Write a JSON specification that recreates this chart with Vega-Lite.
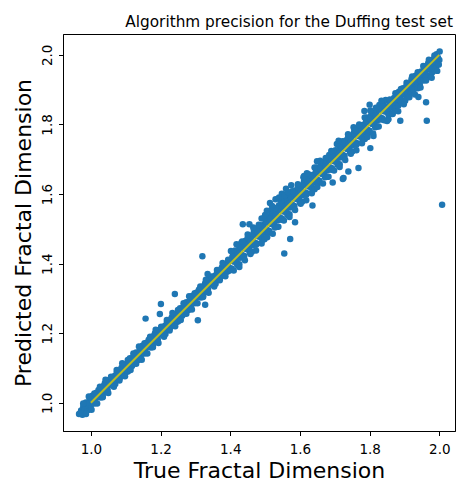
{
"$schema": "https://vega.github.io/schema/vega-lite/v6.json",
"width": 392, "height": 397,
"autosize": "none",
"padding": {"left": 63, "top": 34, "right": 1, "bottom": 50},
"background": "white",
"config": {
  "view": {"stroke": "black", "strokeWidth": 1},
  "font": "DejaVu Sans",
  "axis": {"grid": false, "domainColor": "black", "tickColor": "black", "labelColor": "black", "titleColor": "black",
           "labelFont": "DejaVu Sans", "titleFont": "DejaVu Sans", "labelFontSize": 13.5, "titleFontSize": 22, "titleFontWeight": "normal", "tickSize": 4.5, "domainWidth": 1, "tickWidth": 1}
},
"title": {"text": "Algorithm precision for the Duffing test set", "fontSize": 15.3, "font": "DejaVu Sans", "fontWeight": "normal", "color": "black", "anchor": "end", "frame": "group", "dx": -2, "dy": 17, "baseline": "alphabetic", "offset": 9},
"datasets": {
"pts": [
{"t":0.972,"p":0.978},{"t":0.976,"p":0.966},{"t":0.980,"p":0.993},{"t":0.984,"p":0.981},{"t":0.988,"p":0.989},{"t":0.992,"p":0.979},{"t":0.996,"p":1.005},{"t":1.000,"p":0.994},{"t":1.004,"p":1.020},{"t":1.008,"p":1.014},
{"t":1.012,"p":1.002},{"t":1.016,"p":1.029},{"t":1.020,"p":1.017},{"t":1.024,"p":1.025},{"t":1.028,"p":1.015},{"t":1.032,"p":1.041},{"t":1.036,"p":1.030},{"t":1.040,"p":1.056},{"t":1.044,"p":1.050},{"t":1.048,"p":1.038},
{"t":1.052,"p":1.065},{"t":1.056,"p":1.053},{"t":1.060,"p":1.061},{"t":1.064,"p":1.051},{"t":1.068,"p":1.077},{"t":1.072,"p":1.066},{"t":1.076,"p":1.092},{"t":1.080,"p":1.086},{"t":1.084,"p":1.074},{"t":1.088,"p":1.101},
{"t":1.092,"p":1.089},{"t":1.096,"p":1.097},{"t":1.100,"p":1.087},{"t":1.104,"p":1.113},{"t":1.108,"p":1.102},{"t":1.112,"p":1.128},{"t":1.116,"p":1.122},{"t":1.120,"p":1.110},{"t":1.124,"p":1.137},{"t":1.128,"p":1.125},
{"t":1.132,"p":1.133},{"t":1.136,"p":1.123},{"t":1.140,"p":1.149},{"t":1.144,"p":1.138},{"t":1.148,"p":1.164},{"t":1.152,"p":1.158},{"t":1.156,"p":1.146},{"t":1.160,"p":1.173},{"t":1.164,"p":1.161},{"t":1.168,"p":1.169},
{"t":1.172,"p":1.159},{"t":1.176,"p":1.185},{"t":1.180,"p":1.174},{"t":1.184,"p":1.200},{"t":1.188,"p":1.194},{"t":1.192,"p":1.182},{"t":1.196,"p":1.209},{"t":1.200,"p":1.197},{"t":1.204,"p":1.205},{"t":1.208,"p":1.195},
{"t":1.212,"p":1.221},{"t":1.216,"p":1.210},{"t":1.220,"p":1.236},{"t":1.224,"p":1.230},{"t":1.228,"p":1.218},{"t":1.232,"p":1.245},{"t":1.236,"p":1.233},{"t":1.240,"p":1.241},{"t":1.244,"p":1.231},{"t":1.248,"p":1.257},
{"t":1.252,"p":1.246},{"t":1.256,"p":1.272},{"t":1.260,"p":1.266},{"t":1.264,"p":1.254},{"t":1.268,"p":1.281},{"t":1.272,"p":1.269},{"t":1.276,"p":1.277},{"t":1.280,"p":1.267},{"t":1.284,"p":1.293},{"t":1.288,"p":1.282},
{"t":1.292,"p":1.308},{"t":1.296,"p":1.302},{"t":1.300,"p":1.290},{"t":1.304,"p":1.317},{"t":1.308,"p":1.305},{"t":1.312,"p":1.313},{"t":1.316,"p":1.303},{"t":1.320,"p":1.329},{"t":1.324,"p":1.318},{"t":1.328,"p":1.344},
{"t":1.332,"p":1.338},{"t":1.336,"p":1.326},{"t":1.340,"p":1.353},{"t":1.344,"p":1.341},{"t":1.348,"p":1.349},{"t":1.352,"p":1.339},{"t":1.356,"p":1.365},{"t":1.360,"p":1.354},{"t":1.364,"p":1.380},{"t":1.368,"p":1.374},
{"t":1.372,"p":1.362},{"t":1.376,"p":1.389},{"t":1.380,"p":1.377},{"t":1.384,"p":1.385},{"t":1.388,"p":1.375},{"t":1.392,"p":1.401},{"t":1.396,"p":1.390},
{"t":1.400,"p":1.410},{"t":1.404,"p":1.386},{"t":1.408,"p":1.430},{"t":1.412,"p":1.406},{"t":1.416,"p":1.419},{"t":1.420,"p":1.396},{"t":1.424,"p":1.440},{"t":1.428,"p":1.417},{"t":1.432,"p":1.460},{"t":1.436,"p":1.446},
{"t":1.440,"p":1.422},{"t":1.444,"p":1.466},{"t":1.448,"p":1.442},{"t":1.452,"p":1.455},{"t":1.456,"p":1.432},{"t":1.460,"p":1.476},{"t":1.464,"p":1.453},{"t":1.468,"p":1.496},{"t":1.472,"p":1.482},{"t":1.476,"p":1.458},
{"t":1.480,"p":1.502},{"t":1.484,"p":1.478},{"t":1.488,"p":1.491},{"t":1.492,"p":1.468},{"t":1.496,"p":1.512},{"t":1.500,"p":1.489},{"t":1.504,"p":1.532},{"t":1.508,"p":1.518},{"t":1.512,"p":1.494},{"t":1.516,"p":1.538},
{"t":1.520,"p":1.514},{"t":1.524,"p":1.527},{"t":1.528,"p":1.504},{"t":1.532,"p":1.548},{"t":1.536,"p":1.525},{"t":1.540,"p":1.568},{"t":1.544,"p":1.554},{"t":1.548,"p":1.530},{"t":1.552,"p":1.574},{"t":1.556,"p":1.550},
{"t":1.560,"p":1.563},{"t":1.564,"p":1.540},{"t":1.568,"p":1.584},{"t":1.572,"p":1.561},{"t":1.576,"p":1.604},{"t":1.580,"p":1.590},{"t":1.584,"p":1.566},{"t":1.588,"p":1.610},{"t":1.592,"p":1.586},{"t":1.596,"p":1.599},
{"t":1.600,"p":1.576},{"t":1.604,"p":1.620},{"t":1.608,"p":1.597},{"t":1.612,"p":1.640},{"t":1.616,"p":1.626},{"t":1.620,"p":1.602},{"t":1.624,"p":1.646},{"t":1.628,"p":1.622},{"t":1.632,"p":1.635},{"t":1.636,"p":1.612},
{"t":1.640,"p":1.656},{"t":1.644,"p":1.633},{"t":1.648,"p":1.676},{"t":1.652,"p":1.662},{"t":1.656,"p":1.638},{"t":1.660,"p":1.682},{"t":1.664,"p":1.658},{"t":1.668,"p":1.671},{"t":1.672,"p":1.648},{"t":1.676,"p":1.692},
{"t":1.680,"p":1.669},{"t":1.684,"p":1.712},{"t":1.688,"p":1.698},{"t":1.692,"p":1.674},{"t":1.696,"p":1.718},{"t":1.700,"p":1.694},{"t":1.704,"p":1.707},{"t":1.708,"p":1.684},{"t":1.712,"p":1.728},{"t":1.716,"p":1.705},
{"t":1.720,"p":1.748},{"t":1.724,"p":1.734},{"t":1.728,"p":1.710},{"t":1.732,"p":1.754},{"t":1.736,"p":1.730},{"t":1.740,"p":1.743},{"t":1.744,"p":1.720},{"t":1.748,"p":1.764},{"t":1.752,"p":1.741},{"t":1.756,"p":1.784},
{"t":1.760,"p":1.770},{"t":1.764,"p":1.746},{"t":1.768,"p":1.790},{"t":1.772,"p":1.766},{"t":1.776,"p":1.779},{"t":1.780,"p":1.756},{"t":1.784,"p":1.800},{"t":1.788,"p":1.777},{"t":1.792,"p":1.820},{"t":1.796,"p":1.806},
{"t":1.800,"p":1.782},{"t":1.804,"p":1.826},{"t":1.808,"p":1.802},{"t":1.812,"p":1.815},{"t":1.816,"p":1.792},{"t":1.820,"p":1.836},{"t":1.824,"p":1.813},{"t":1.828,"p":1.856},{"t":1.832,"p":1.842},{"t":1.836,"p":1.818},
{"t":1.840,"p":1.862},{"t":1.844,"p":1.838},{"t":1.848,"p":1.851},
{"t":1.852,"p":1.848},{"t":1.856,"p":1.834},{"t":1.860,"p":1.868},{"t":1.864,"p":1.850},{"t":1.868,"p":1.866},{"t":1.872,"p":1.842},{"t":1.876,"p":1.880},{"t":1.880,"p":1.862},{"t":1.884,"p":1.894},{"t":1.888,"p":1.884},
{"t":1.892,"p":1.870},{"t":1.896,"p":1.904},{"t":1.900,"p":1.886},{"t":1.904,"p":1.902},{"t":1.908,"p":1.878},{"t":1.912,"p":1.916},{"t":1.916,"p":1.898},{"t":1.920,"p":1.930},{"t":1.924,"p":1.920},{"t":1.928,"p":1.906},
{"t":1.932,"p":1.940},{"t":1.936,"p":1.922},{"t":1.940,"p":1.938},{"t":1.944,"p":1.914},{"t":1.948,"p":1.952},{"t":1.952,"p":1.934},{"t":1.956,"p":1.966},{"t":1.960,"p":1.956},{"t":1.964,"p":1.942},{"t":1.968,"p":1.976},
{"t":1.972,"p":1.958},{"t":1.976,"p":1.974},{"t":1.980,"p":1.950},{"t":1.984,"p":1.988},{"t":1.988,"p":1.970},{"t":1.992,"p":2.002},{"t":1.996,"p":1.992},{"t":2.000,"p":1.985},{"t":2.001,"p":2.010},{"t":1.998,"p":1.972},
{"t":0.974,"p":0.968},{"t":0.978,"p":0.988},{"t":0.982,"p":0.980},{"t":0.986,"p":1.001},{"t":0.990,"p":0.982},{"t":0.994,"p":0.998},{"t":0.998,"p":0.982},{"t":1.002,"p":1.014},{"t":1.006,"p":1.001},{"t":1.010,"p":0.998},
{"t":1.014,"p":1.024},{"t":1.018,"p":1.016},{"t":1.022,"p":1.037},{"t":1.026,"p":1.018},{"t":1.030,"p":1.034},{"t":1.034,"p":1.018},{"t":1.038,"p":1.050},{"t":1.042,"p":1.037},{"t":1.046,"p":1.034},{"t":1.050,"p":1.060},
{"t":1.054,"p":1.052},{"t":1.058,"p":1.073},{"t":1.062,"p":1.054},{"t":1.066,"p":1.070},{"t":1.070,"p":1.054},{"t":1.074,"p":1.086},{"t":1.078,"p":1.073},{"t":1.082,"p":1.070},{"t":1.086,"p":1.096},{"t":1.090,"p":1.088},
{"t":1.094,"p":1.109},{"t":1.098,"p":1.090},{"t":1.102,"p":1.106},{"t":1.106,"p":1.090},{"t":1.110,"p":1.122},{"t":1.114,"p":1.109},{"t":1.118,"p":1.106},{"t":1.122,"p":1.132},{"t":1.126,"p":1.124},{"t":1.130,"p":1.145},
{"t":1.134,"p":1.126},{"t":1.138,"p":1.142},{"t":1.142,"p":1.126},{"t":1.146,"p":1.158},{"t":1.150,"p":1.145},{"t":1.154,"p":1.142},{"t":1.158,"p":1.168},{"t":1.162,"p":1.160},{"t":1.166,"p":1.181},{"t":1.170,"p":1.162},
{"t":1.174,"p":1.178},{"t":1.178,"p":1.162},{"t":1.182,"p":1.194},{"t":1.186,"p":1.181},{"t":1.190,"p":1.178},{"t":1.194,"p":1.204},{"t":1.198,"p":1.196},{"t":1.202,"p":1.217},{"t":1.206,"p":1.198},{"t":1.210,"p":1.214},
{"t":1.214,"p":1.198},{"t":1.218,"p":1.230},{"t":1.222,"p":1.217},{"t":1.226,"p":1.214},{"t":1.230,"p":1.240},{"t":1.234,"p":1.232},{"t":1.238,"p":1.253},{"t":1.242,"p":1.234},{"t":1.246,"p":1.250},{"t":1.250,"p":1.234},
{"t":1.254,"p":1.266},{"t":1.258,"p":1.253},{"t":1.262,"p":1.250},{"t":1.266,"p":1.276},{"t":1.270,"p":1.268},{"t":1.274,"p":1.289},{"t":1.278,"p":1.270},{"t":1.282,"p":1.286},{"t":1.286,"p":1.270},{"t":1.290,"p":1.302},
{"t":1.294,"p":1.289},{"t":1.298,"p":1.286},{"t":1.302,"p":1.312},{"t":1.306,"p":1.304},{"t":1.310,"p":1.325},{"t":1.314,"p":1.306},{"t":1.318,"p":1.322},{"t":1.322,"p":1.306},{"t":1.326,"p":1.338},{"t":1.330,"p":1.325},
{"t":1.334,"p":1.322},{"t":1.338,"p":1.348},{"t":1.342,"p":1.340},{"t":1.346,"p":1.361},{"t":1.350,"p":1.342},{"t":1.354,"p":1.358},{"t":1.358,"p":1.342},{"t":1.362,"p":1.374},{"t":1.366,"p":1.361},{"t":1.370,"p":1.358},
{"t":1.374,"p":1.384},{"t":1.378,"p":1.376},{"t":1.382,"p":1.397},{"t":1.386,"p":1.378},{"t":1.390,"p":1.394},{"t":1.394,"p":1.378},{"t":1.398,"p":1.410},
{"t":1.402,"p":1.382},{"t":1.406,"p":1.420},{"t":1.410,"p":1.406},{"t":1.414,"p":1.438},{"t":1.418,"p":1.404},{"t":1.422,"p":1.428},{"t":1.426,"p":1.398},{"t":1.430,"p":1.450},{"t":1.434,"p":1.425},{"t":1.438,"p":1.418},
{"t":1.442,"p":1.456},{"t":1.446,"p":1.442},{"t":1.450,"p":1.474},{"t":1.454,"p":1.440},{"t":1.458,"p":1.464},{"t":1.462,"p":1.434},{"t":1.466,"p":1.486},{"t":1.470,"p":1.461},{"t":1.474,"p":1.454},{"t":1.478,"p":1.492},
{"t":1.482,"p":1.478},{"t":1.486,"p":1.510},{"t":1.490,"p":1.476},{"t":1.494,"p":1.500},{"t":1.498,"p":1.470},{"t":1.502,"p":1.522},{"t":1.506,"p":1.497},{"t":1.510,"p":1.490},{"t":1.514,"p":1.528},{"t":1.518,"p":1.514},
{"t":1.522,"p":1.546},{"t":1.526,"p":1.512},{"t":1.530,"p":1.536},{"t":1.534,"p":1.506},{"t":1.538,"p":1.558},{"t":1.542,"p":1.533},{"t":1.546,"p":1.526},{"t":1.550,"p":1.564},{"t":1.554,"p":1.550},{"t":1.558,"p":1.582},
{"t":1.562,"p":1.548},{"t":1.566,"p":1.572},{"t":1.570,"p":1.542},{"t":1.574,"p":1.594},{"t":1.578,"p":1.569},{"t":1.582,"p":1.562},{"t":1.586,"p":1.600},{"t":1.590,"p":1.586},{"t":1.594,"p":1.618},{"t":1.598,"p":1.584},
{"t":1.602,"p":1.608},{"t":1.606,"p":1.578},{"t":1.610,"p":1.630},{"t":1.614,"p":1.605},{"t":1.618,"p":1.598},{"t":1.622,"p":1.636},{"t":1.626,"p":1.622},{"t":1.630,"p":1.654},{"t":1.634,"p":1.620},{"t":1.638,"p":1.644},
{"t":1.642,"p":1.614},{"t":1.646,"p":1.666},{"t":1.650,"p":1.641},{"t":1.654,"p":1.634},{"t":1.658,"p":1.672},{"t":1.662,"p":1.658},{"t":1.666,"p":1.690},{"t":1.670,"p":1.656},{"t":1.674,"p":1.680},{"t":1.678,"p":1.650},
{"t":1.682,"p":1.702},{"t":1.686,"p":1.677},{"t":1.690,"p":1.670},{"t":1.694,"p":1.708},{"t":1.698,"p":1.694},{"t":1.702,"p":1.726},{"t":1.706,"p":1.692},{"t":1.710,"p":1.716},{"t":1.714,"p":1.686},{"t":1.718,"p":1.738},
{"t":1.722,"p":1.713},{"t":1.726,"p":1.706},{"t":1.730,"p":1.744},{"t":1.734,"p":1.730},{"t":1.738,"p":1.762},{"t":1.742,"p":1.728},{"t":1.746,"p":1.752},{"t":1.750,"p":1.722},{"t":1.754,"p":1.774},{"t":1.758,"p":1.749},
{"t":1.762,"p":1.742},{"t":1.766,"p":1.780},{"t":1.770,"p":1.766},{"t":1.774,"p":1.798},{"t":1.778,"p":1.764},{"t":1.782,"p":1.788},{"t":1.786,"p":1.758},{"t":1.790,"p":1.810},{"t":1.794,"p":1.785},{"t":1.798,"p":1.778},
{"t":1.802,"p":1.816},{"t":1.806,"p":1.802},{"t":1.810,"p":1.834},{"t":1.814,"p":1.800},{"t":1.818,"p":1.824},{"t":1.822,"p":1.794},{"t":1.826,"p":1.846},{"t":1.830,"p":1.821},{"t":1.834,"p":1.814},{"t":1.838,"p":1.852},
{"t":1.842,"p":1.838},{"t":1.846,"p":1.870},{"t":1.850,"p":1.836},
{"t":1.854,"p":1.828},{"t":1.858,"p":1.860},{"t":1.862,"p":1.852},{"t":1.866,"p":1.832},{"t":1.870,"p":1.876},{"t":1.874,"p":1.854},{"t":1.878,"p":1.872},{"t":1.882,"p":1.854},{"t":1.886,"p":1.886},{"t":1.890,"p":1.864},
{"t":1.894,"p":1.896},{"t":1.898,"p":1.888},{"t":1.902,"p":1.868},{"t":1.906,"p":1.912},{"t":1.910,"p":1.890},{"t":1.914,"p":1.908},{"t":1.918,"p":1.890},{"t":1.922,"p":1.922},{"t":1.926,"p":1.900},{"t":1.930,"p":1.932},
{"t":1.934,"p":1.924},{"t":1.938,"p":1.904},{"t":1.942,"p":1.948},{"t":1.946,"p":1.926},{"t":1.950,"p":1.944},{"t":1.954,"p":1.926},{"t":1.958,"p":1.958},{"t":1.962,"p":1.936},{"t":1.966,"p":1.968},{"t":1.970,"p":1.960},
{"t":1.974,"p":1.940},{"t":1.978,"p":1.984},{"t":1.982,"p":1.962},{"t":1.986,"p":1.980},{"t":1.990,"p":1.962},{"t":1.994,"p":1.994},{"t":1.998,"p":1.972},
{"t":0.978,"p":0.998},{"t":0.986,"p":0.968},{"t":0.994,"p":1.018},{"t":1.002,"p":0.980},{"t":1.010,"p":1.027},{"t":1.018,"p":0.998},{"t":1.026,"p":1.046},{"t":1.034,"p":1.016},{"t":1.042,"p":1.066},{"t":1.050,"p":1.028},
{"t":1.058,"p":1.075},{"t":1.066,"p":1.046},{"t":1.074,"p":1.094},{"t":1.082,"p":1.064},{"t":1.090,"p":1.114},{"t":1.098,"p":1.076},{"t":1.106,"p":1.123},{"t":1.114,"p":1.094},{"t":1.122,"p":1.142},{"t":1.130,"p":1.112},
{"t":1.138,"p":1.162},{"t":1.146,"p":1.124},{"t":1.154,"p":1.171},{"t":1.162,"p":1.142},{"t":1.170,"p":1.190},{"t":1.178,"p":1.160},{"t":1.186,"p":1.210},{"t":1.194,"p":1.172},{"t":1.202,"p":1.219},{"t":1.210,"p":1.190},
{"t":1.218,"p":1.238},{"t":1.226,"p":1.208},{"t":1.234,"p":1.258},{"t":1.242,"p":1.220},{"t":1.250,"p":1.267},{"t":1.258,"p":1.238},{"t":1.266,"p":1.286},{"t":1.274,"p":1.256},{"t":1.282,"p":1.306},{"t":1.290,"p":1.268},
{"t":1.298,"p":1.315},{"t":1.306,"p":1.286},{"t":1.314,"p":1.334},{"t":1.322,"p":1.304},{"t":1.330,"p":1.354},{"t":1.338,"p":1.316},{"t":1.346,"p":1.363},{"t":1.354,"p":1.334},{"t":1.362,"p":1.382},{"t":1.370,"p":1.352},
{"t":1.378,"p":1.402},{"t":1.386,"p":1.364},{"t":1.394,"p":1.411},
{"t":1.402,"p":1.436},{"t":1.410,"p":1.380},{"t":1.418,"p":1.456},{"t":1.426,"p":1.390},{"t":1.434,"p":1.464},{"t":1.442,"p":1.410},{"t":1.450,"p":1.484},{"t":1.458,"p":1.428},{"t":1.466,"p":1.504},{"t":1.474,"p":1.438},
{"t":1.482,"p":1.512},{"t":1.490,"p":1.458},{"t":1.498,"p":1.532},{"t":1.506,"p":1.476},{"t":1.514,"p":1.552},{"t":1.522,"p":1.486},{"t":1.530,"p":1.560},{"t":1.538,"p":1.506},{"t":1.546,"p":1.580},{"t":1.554,"p":1.524},
{"t":1.562,"p":1.600},{"t":1.570,"p":1.534},{"t":1.578,"p":1.608},{"t":1.586,"p":1.554},{"t":1.594,"p":1.628},{"t":1.602,"p":1.572},{"t":1.610,"p":1.648},{"t":1.618,"p":1.582},{"t":1.626,"p":1.656},{"t":1.634,"p":1.602},
{"t":1.642,"p":1.676},{"t":1.650,"p":1.620},{"t":1.658,"p":1.696},{"t":1.666,"p":1.630},{"t":1.674,"p":1.704},{"t":1.682,"p":1.650},{"t":1.690,"p":1.724},{"t":1.698,"p":1.668},{"t":1.706,"p":1.744},{"t":1.714,"p":1.678},
{"t":1.722,"p":1.752},{"t":1.730,"p":1.698},{"t":1.738,"p":1.772},{"t":1.746,"p":1.716},{"t":1.754,"p":1.792},{"t":1.762,"p":1.726},{"t":1.770,"p":1.800},{"t":1.778,"p":1.746},{"t":1.786,"p":1.820},{"t":1.794,"p":1.764},
{"t":1.802,"p":1.840},{"t":1.810,"p":1.774},{"t":1.818,"p":1.848},{"t":1.826,"p":1.794},{"t":1.834,"p":1.868},{"t":1.842,"p":1.812},
{"t":1.850,"p":1.810},{"t":1.858,"p":1.872},{"t":1.866,"p":1.830},{"t":1.874,"p":1.890},{"t":1.882,"p":1.838},{"t":1.890,"p":1.902},{"t":1.898,"p":1.858},{"t":1.906,"p":1.920},{"t":1.914,"p":1.878},{"t":1.922,"p":1.938},
{"t":1.930,"p":1.886},{"t":1.938,"p":1.950},{"t":1.946,"p":1.906},{"t":1.954,"p":1.968},{"t":1.962,"p":1.926},{"t":1.970,"p":1.986},{"t":1.978,"p":1.934},{"t":1.986,"p":1.998},{"t":1.994,"p":1.954},
{"t":2.008,"p":1.569},{"t":1.964,"p":1.811},{"t":1.962,"p":1.864},{"t":1.940,"p":1.879},{"t":1.888,"p":1.811},{"t":1.854,"p":1.815},{"t":1.802,"p":1.732},{"t":1.811,"p":1.767},{"t":1.768,"p":1.675},{"t":1.739,"p":1.665},
{"t":1.785,"p":1.839},{"t":1.800,"p":1.857},{"t":1.711,"p":1.753},{"t":1.725,"p":1.646},{"t":1.649,"p":1.694},{"t":1.759,"p":1.783},{"t":1.723,"p":1.643},{"t":1.694,"p":1.633},{"t":1.636,"p":1.567},{"t":1.586,"p":1.519},
{"t":1.572,"p":1.471},{"t":1.555,"p":1.429},{"t":1.436,"p":1.513},{"t":1.455,"p":1.513},{"t":1.548,"p":1.601},{"t":1.514,"p":1.574},{"t":1.320,"p":1.421},{"t":1.335,"p":1.370},{"t":1.241,"p":1.313},{"t":1.201,"p":1.284},
{"t":1.157,"p":1.242},{"t":1.198,"p":1.255},{"t":1.328,"p":1.282},{"t":1.307,"p":1.237},{"t":0.970,"p":0.971},{"t":0.966,"p":0.968},
{"t":1.530,"p":1.585},{"t":1.540,"p":1.590},{"t":1.560,"p":1.615},{"t":1.575,"p":1.625},{"t":1.500,"p":1.540},{"t":1.490,"p":1.530},
{"t":1.505,"p":1.552},{"t":1.520,"p":1.566},{"t":1.555,"p":1.596},{"t":1.565,"p":1.606},{"t":1.612,"p":1.652},{"t":1.620,"p":1.660}
],
"line": [{"t":1.0,"p":1.0},{"t":2.0,"p":2.0}]
},
"layer": [
 {"data": {"name": "pts"},
  "mark": {"type": "circle", "size": 42, "color": "#1f77b4", "opacity": 1},
  "encoding": {
   "x": {"field": "t", "type": "quantitative", "scale": {"domain": [0.920, 2.045], "nice": false, "zero": false},
         "axis": {"title": "True Fractal Dimension", "values": [1.0, 1.2, 1.4, 1.6, 1.8, 2.0], "format": ".1f", "labelPadding": 7, "titleBaseline": "alphabetic", "titleY": 46}},
   "y": {"field": "p", "type": "quantitative", "scale": {"domain": [0.919, 2.060], "nice": false, "zero": false},
         "axis": {"title": "Predicted Fractal Dimension", "values": [1.0, 1.2, 1.4, 1.6, 1.8, 2.0], "format": ".1f", "labelAngle": 270, "labelAlign": "center", "labelBaseline": "bottom", "labelPadding": 4, "titleBaseline": "alphabetic", "titleX": -33}}
  }
 },
 {"data": {"name": "line"},
  "mark": {"type": "line", "color": "#bcbd22", "strokeWidth": 2},
  "encoding": {"x": {"field": "t", "type": "quantitative"}, "y": {"field": "p", "type": "quantitative"}}
 }
]
}
